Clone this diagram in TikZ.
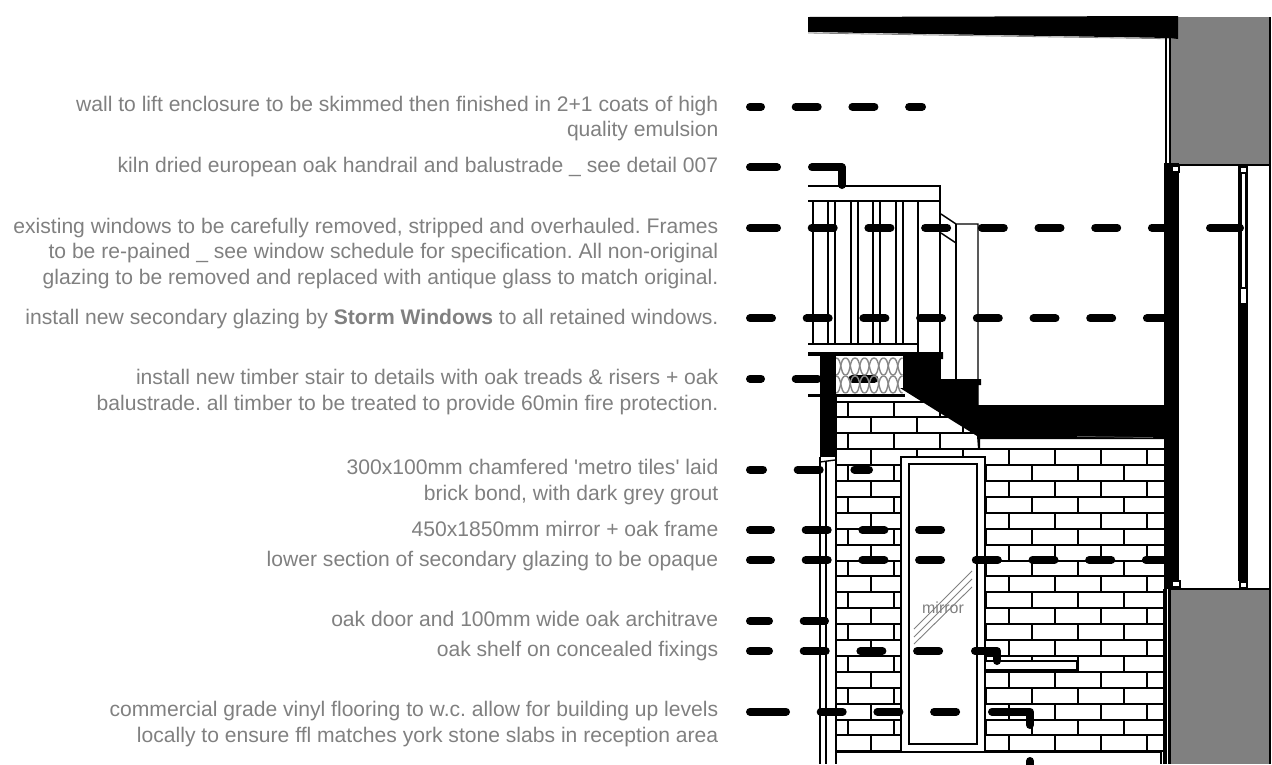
\documentclass[tikz,border=0pt]{standalone}
\usepackage{fontspec}
\setmainfont{Liberation Sans}
\newfontfamily\straightquote{Liberation Sans}
\definecolor{WallGrey}{RGB}{128, 128, 128}
\definecolor{NoteGrey}{RGB}{128, 128, 128}
\definecolor{FoamGrey}{RGB}{135, 135, 135}
\tikzset{
  notelabel/.style={anchor=base east, align=right, inner sep=0pt, text=NoteGrey, font=\frenchspacing\fontsize{21.1}{25.5}\selectfont},
  leaderline/.style={line width=8pt, line cap=round, dash pattern=on #1pt off 34.7pt on 22pt off 34.7pt on 22pt off 34.7pt on 22pt off 34.7pt on 22pt off 34.7pt on 22pt off 34.7pt on 22pt off 34.7pt on 22pt off 34.7pt on 22pt off 34.7pt},
  leadertail/.style={line width=8pt, line cap=round, line join=round},
  brickline/.style={line width=2pt},
  thinline/.style={line width=1.4pt},
  frameline/.style={line width=2pt, fill=white}
}

\begin{document}
\begin{tikzpicture}[x=1pt, y=-1pt]
        \useasboundingbox (0, 0) rectangle (1272, 764);

        % Brick wall
        \begin{scope}
            \clip (836, 397) -- (915, 397) -- (978, 436) -- (978, 449) -- (1164, 449) -- (1164, 752) -- (836, 752) -- cycle;
            \foreach \k in {0,...,22}
                \draw[brickline] (836, {401.5+15.9*\k}) -- (1165, {401.5+15.9*\k});
            \foreach \k in {0,2,...,20}
                \foreach \xb in {848,894,940,986,1032,1078,1124}
                    \draw[brickline] (\xb, {401.5+15.9*\k}) -- (\xb, {401.5+15.9*(\k+1)});
            \foreach \k in {1,3,...,21}
                \foreach \xb in {871,917,963,1009,1055,1101,1147}
                    \draw[brickline] (\xb, {401.5+15.9*\k}) -- (\xb, {401.5+15.9*(\k+1)});
        \end{scope}

        % Mirror and oak frame
        \draw[frameline] (901, 457) rectangle (985, 752);
        \draw[frameline] (909, 464) rectangle (977, 744);
        \draw[WallGrey, line width=0.9pt] (914, 629) -- (972, 571);
        \draw[WallGrey, line width=0.9pt] (914, 637) -- (972, 579);
        \draw[WallGrey, line width=0.9pt] (914, 644) -- (972, 587);
        \node[inner sep=0pt, text=NoteGrey, font=\fontsize{16}{18}\selectfont] (mirrorlabel) at (943, 608) {mirror};

        % Shelf
        \draw[fill=white, line width=1.3pt] (985, 661) rectangle (1077, 670);
        \draw[line width=2pt] (985, 670) -- (1077, 670);

        % Door and architrave
        \draw[line width=2pt] (820, 457) -- (820, 764);
        \draw[thinline] (826, 461) -- (826, 764);
        \draw[brickline] (836, 397) -- (836, 764);
        \draw[thinline] (820, 462) -- (835, 460);

        % Floor
        \draw[brickline] (836, 752) -- (1161, 752) -- (1161, 764);

        % Handrail and balusters
        \draw[thinline] (808, 186) -- (940, 186) -- (940, 379);
        \draw[thinline] (808, 201) -- (940, 201);
        \foreach \xb in {813, 828, 835, 851, 858, 873, 880, 896, 903}
            \draw[thinline] (\xb, 201) -- (\xb, 344);
        \draw[thinline] (808, 344) -- (918, 344);
        \draw[thinline] (918, 201) -- (918, 352);

        % Stair string
        \draw[thinline] (941, 214) -- (956, 224) -- (978, 224) -- (978, 405);
        \draw[thinline] (956, 224) -- (956, 379);
        \draw[thinline] (941, 233) -- (956, 243);

        % Insulated landing
        \fill[white] (836, 357) rectangle (903, 393);

        % Leaders
        \coordinate (wallstart) at (750, 106.7);
        \coordinate (walltip) at (922, 106.7);
        \coordinate (railstart) at (750, 167.3);
        \coordinate (railmid) at (777, 167.3);
        \coordinate (railbend) at (812, 167.3);
        \coordinate (railtip) at (842, 185);
        \coordinate (windowstart) at (750, 227.7);
        \coordinate (windowmid) at (1165, 227.7);
        \coordinate (windowbend) at (1210, 227.7);
        \coordinate (windowtip) at (1240, 227.7);
        \coordinate (stormstart) at (750, 318.3);
        \coordinate (stormtip) at (1165, 318.3);
        \coordinate (stairstart) at (750, 378.7);
        \coordinate (stairtip) at (876, 378.7);
        \coordinate (tilestart) at (750, 469.5);
        \coordinate (tiletip) at (869, 469.5);
        \coordinate (mirrorstart) at (750, 530);
        \coordinate (mirrortip) at (942, 530);
        \coordinate (opaquestart) at (750, 560);
        \coordinate (opaquetip) at (1165, 560);
        \coordinate (doorstart) at (750, 621);
        \coordinate (doortip) at (825, 621);
        \coordinate (shelfstart) at (750, 651);
        \coordinate (shelfmid) at (940, 651);
        \coordinate (shelfbend) at (975, 651);
        \coordinate (shelftip) at (997, 661);
        \coordinate (vinylstart) at (750, 711.7);
        \coordinate (vinylmid) at (957, 711.7);
        \coordinate (vinylbend) at (992, 711.7);
        \coordinate (vinyltip) at (1030, 725);
        \coordinate (vinylstub) at (1030, 761);
        \coordinate (vinylout) at (1030, 772);

        \draw[leaderline=11] (wallstart) -- (walltip);
        \draw[leaderline=27] (railstart) -- (railmid);
        \draw[leadertail] (railbend) -| (railtip);
        \draw[leaderline=27] (windowstart) -- (windowmid);
        \draw[leadertail] (windowbend) -- (windowtip);
        \draw[leaderline=22] (stormstart) -- (stormtip);
        \draw[leaderline=11] (stairstart) -- (stairtip);
        \draw[leaderline=13] (tilestart) -- (tiletip);
        \draw[leaderline=21] (mirrorstart) -- (mirrortip);
        \draw[leaderline=21] (opaquestart) -- (opaquetip);
        \draw[leaderline=19] (doorstart) -- (doortip);
        \draw[leaderline=19] (shelfstart) -- (shelfmid);
        \draw[leadertail] (shelfbend) -| (shelftip);
        \draw[leaderline=36] (vinylstart) -- (vinylmid);
        \draw[leadertail] (vinylbend) -| (vinyltip);
        \draw[leadertail] (vinylstub) -- (vinylout);

        % Insulation
        \foreach \xb in {836, 845.5, 855, 864.5, 874, 883.5, 893} {
            \foreach \yb in {358, 376} {
                \draw[FoamGrey, line width=1.4pt] (\xb, \yb) .. controls (\xb+6, \yb) and (\xb+4, \yb+17) .. (\xb+9.5, \yb+17);
                \draw[FoamGrey, line width=1.4pt] (\xb+9.5, \yb) .. controls (\xb+3.5, \yb) and (\xb+5.5, \yb+17) .. (\xb, \yb+17);
            }
        }

        % Floor plates and column
        \fill (808, 352) rectangle (903, 356);
        \fill (808, 393.5) rectangle (905, 397);
        \fill (820, 356) rectangle (836, 457);

        % Stair and landing
        \fill (903, 352) -- (943, 352) -- (943, 359) -- (940, 359) -- (940, 379) -- (981, 379) -- (981, 385) -- (978, 385) -- (978, 405) -- (1166, 405) -- (1166, 439) -- (980, 439) -- (980, 449) -- (978, 449) -- (977, 436) -- (900, 388) -- (903, 388) -- cycle;
        \fill (978, 448.2) rectangle (1164, 450);
        \draw[WallGrey, line width=0.5pt] (1077, 436.5) -- (1153, 437.5);

        % Masonry either side of the window
        \fill[WallGrey] (1171, 17) rectangle (1269, 165);
        \fill[WallGrey] (1171, 589) rectangle (1269, 764);
        \draw[thinline] (1171, 165) -- (1271, 165);
        \draw[thinline] (1168, 589) -- (1271, 589);
        \draw[line width=2pt] (1270, 17) -- (1270, 589);
        \draw[line width=2pt] (1270, 589) -- (1270, 764);

        % Ceiling
        \fill (808, 17) -- (1178, 16) -- (1178, 39) -- (1170, 38) -- (808, 32) -- cycle;
        \draw[WallGrey, line width=0.8pt] (808, 33) -- (1170, 38.8);

        % Window reveal
        \draw[line width=2pt] (1166, 38) -- (1166, 165);
        \draw[line width=2pt] (1170, 38) -- (1170, 165);
        \fill (1164, 163) rectangle (1179, 589);
        \fill (1163, 589) rectangle (1167, 764);
        \fill (1168, 589) rectangle (1171, 764);
        \draw[fill=white, thinline] (1172.5, 166.5) rectangle (1179, 172);
        \draw[fill=white, thinline] (1172.5, 581) rectangle (1180, 587);

        % Secondary glazing
        \fill (1238, 166) rectangle (1242, 288);
        \fill (1245, 166) rectangle (1247.5, 288);
        \fill (1238, 288) rectangle (1248, 581);
        \draw[fill=white, thinline] (1240, 167) rectangle (1247, 173);
        \draw[fill=white, thinline] (1240.5, 288) rectangle (1247, 304);
        \draw[fill=white, thinline] (1240, 582) rectangle (1247, 588);

        % Notes
        \node[notelabel] (wallnote) at (718.5, 136.7) {wall to lift enclosure to be skimmed then finished in 2+1 coats of high\\quality emulsion};
        \node[notelabel] (railnote) at (718.5, 172.3) {kiln dried european oak handrail and balustrade \_ see detail 007};
        \node[notelabel] (windownote) at (718.5, 284) {existing windows to be carefully removed, stripped and overhauled. Frames\\to be re-pained \_ see window schedule for specification. All non-original\\glazing to be removed and replaced with antique glass to match original.};
        \node[notelabel] (stormnote) at (718.5, 324) {install new secondary glazing by \textbf{Storm Windows} to all retained windows.};
        \node[notelabel] (stairnote) at (718.5, 410) {install new timber stair to details with oak treads \& risers + oak\\balustrade. all timber to be treated to provide 60min fire protection.};
        \node[notelabel] (tilenote) at (718.5, 500) {300x100mm chamfered {\straightquote 'metro tiles'} laid\\brick bond, with dark grey grout};
        \node[notelabel] (mirrornote) at (718.5, 536) {450x1850mm mirror + oak frame};
        \node[notelabel] (opaquenote) at (718.5, 566) {lower section of secondary glazing to be opaque};
        \node[notelabel] (doornote) at (718.5, 626) {oak door and 100mm wide oak architrave};
        \node[notelabel] (shelfnote) at (718.5, 656.7) {oak shelf on concealed fixings};
        \node[notelabel] (vinylnote) at (718.5, 742.3) {commercial grade vinyl flooring to w.c. allow for building up levels\\locally to ensure ffl matches york stone slabs in reception area};
\end{tikzpicture}
\end{document}
